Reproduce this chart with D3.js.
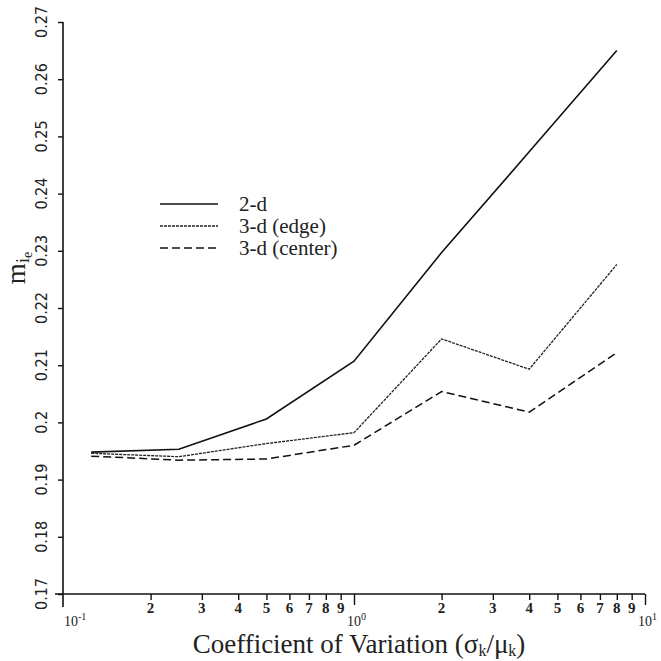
<!DOCTYPE html>
<html><head><meta charset="utf-8">
<script src="https://cdn.jsdelivr.net/npm/d3@7"></script>
<style>
html,body{margin:0;padding:0;background:#fff;}
svg{display:block;}
</style></head>
<body>
<svg id="chart" width="661" height="661"></svg>
<script>
// ---- data ----
const cv = [0.125, 0.25, 0.5, 1, 2, 4, 8];
const series2d = [0.1948, 0.1953, 0.2006, 0.2107, 0.2297, 0.2473, 0.2650];
const series3dEdge = [0.1946, 0.1940, 0.1963, 0.1982, 0.2146, 0.2093, 0.2276];
const series3dCenter = [0.1941, 0.1934, 0.1936, 0.1960, 0.2054, 0.2018, 0.2122];
const seriesNames = ["2-d", "3-d (edge)", "3-d (center)"];
const yTicks = [0.17, 0.18, 0.19, 0.2, 0.21, 0.22, 0.23, 0.24, 0.25, 0.26, 0.27];
const yTickLabels = ["0.17", "0.18", "0.19", "0.2", "0.21", "0.22", "0.23", "0.24", "0.25", "0.26", "0.27"];
const xMajor = [0.1, 1, 10];
const xMajorExp = ["-1", "0", "1"];
const xMinor = [0.2, 0.3, 0.4, 0.5, 0.6, 0.7, 0.8, 0.9, 2, 3, 4, 5, 6, 7, 8, 9];
const xMinorLabels = ["2","3","4","5","6","7","8","9","2","3","4","5","6","7","8","9"];

const svg = d3.select("#chart");
const serif = "'Liberation Serif','Times New Roman',serif";
const narrow = "'Liberation Sans Narrow','DejaVu Sans Condensed',sans-serif";

const x = d3.scaleLog().domain([0.1, 10]).range([63, 645]);
const y = d3.scaleLinear().domain([0.17, 0.27]).range([594, 22]);

// ---- y axis ----
const yAxis = d3.axisLeft(y).tickValues(yTicks).tickSize(5).tickFormat("");
const gy = svg.append("g").attr("transform", `translate(${x(0.1)},0)`).call(yAxis);
gy.select(".domain").remove();
gy.selectAll(".tick line").attr("stroke", "#111").attr("stroke-width", 1.4);
svg.append("line").attr("x1", x(0.1)).attr("x2", x(0.1)).attr("y1", y(0.27)).attr("y2", y(0.17) + 13)
  .attr("stroke", "#111").attr("stroke-width", 1.6);
svg.append("g").selectAll("text").data(yTicks).join("text")
  .attr("transform", d => `translate(47,${y(d)}) rotate(-90)`)
  .attr("text-anchor", "middle")
  .attr("font-family", narrow).attr("font-size", 16).attr("fill", "#222")
  .text((d, i) => yTickLabels[i]);

// ---- x axis ----
svg.append("line").attr("x1", x(0.1) - 8).attr("x2", x(10)).attr("y1", y(0.17)).attr("y2", y(0.17))
  .attr("stroke", "#111").attr("stroke-width", 1.6);
const xAxisMinor = d3.axisBottom(x).tickValues(xMinor).tickSize(6).tickFormat("");
const gxm = svg.append("g").attr("transform", `translate(0,${y(0.17)})`).call(xAxisMinor);
gxm.select(".domain").remove();
gxm.selectAll(".tick line").attr("stroke", "#111").attr("stroke-width", 1.4);
const xAxisMajor = d3.axisBottom(x).tickValues(xMajor.slice(1)).tickSize(11).tickFormat("");
const gxM = svg.append("g").attr("transform", `translate(0,${y(0.17)})`).call(xAxisMajor);
gxM.select(".domain").remove();
gxM.selectAll(".tick line").attr("stroke", "#111").attr("stroke-width", 1.4);

svg.append("g").selectAll("text").data(xMinor).join("text")
  .attr("x", d => x(d)).attr("y", 613)
  .attr("text-anchor", "middle")
  .attr("font-family", serif).attr("font-weight", "bold").attr("font-size", 15).attr("fill", "#222")
  .text((d, i) => xMinorLabels[i]);

xMajor.forEach((v, i) => {
  const t = svg.append("text")
    .attr("y", 626)
    .attr("font-family", serif).attr("font-size", 14).attr("fill", "#222");
  if (i === 0) t.attr("x", x(v) + 1); else t.attr("x", x(v) - 7);
  t.append("tspan").text("10");
  t.append("tspan").attr("dy", -6).attr("font-size", 10).text(xMajorExp[i]);
});

// axis titles
const xt = svg.append("text").attr("x", 359).attr("y", 653).attr("text-anchor", "middle")
  .attr("font-family", serif).attr("font-size", 27).attr("fill", "#222");
xt.append("tspan").text("Coefficient of Variation (σ");
xt.append("tspan").attr("dy", 3).attr("font-size", 16).text("k");
xt.append("tspan").attr("dy", -3).text("/μ");
xt.append("tspan").attr("dy", 3).attr("font-size", 16).text("k");
xt.append("tspan").attr("dy", -3).text(")");

const yt = svg.append("text").attr("transform", "translate(25,268) rotate(-90)")
  .attr("text-anchor", "middle")
  .attr("font-family", serif).attr("font-size", 27).attr("fill", "#222");
yt.append("tspan").text("m");
yt.append("tspan").attr("dy", 4).attr("font-size", 18).text("i");
yt.append("tspan").attr("dy", 3).attr("font-size", 14).text("e");

// ---- lines ----
const styles = [
  {data: series2d, width: 1.6, dash: null, color: "#111"},
  {data: series3dEdge, width: 1.3, dash: "3,1", color: "#222"},
  {data: series3dCenter, width: 1.5, dash: "8,4", color: "#111"}
];
const line = d3.line().x(d => x(d[0])).y(d => y(d[1]));
styles.forEach(s => {
  svg.append("path")
    .datum(cv.map((c, i) => [c, s.data[i]]))
    .attr("d", line)
    .attr("fill", "none")
    .attr("stroke", s.color)
    .attr("stroke-width", s.width)
    .attr("stroke-dasharray", s.dash);
});

// ---- legend ----
const leg = svg.append("g");
const legLineY = [204, 226, 248];
const legTextY = [211, 233, 255];
styles.forEach((s, i) => {
  leg.append("line").attr("x1", 160).attr("x2", 218).attr("y1", legLineY[i]).attr("y2", legLineY[i])
    .attr("stroke", s.color).attr("stroke-width", s.width).attr("stroke-dasharray", s.dash);
  leg.append("text").attr("x", 239).attr("y", legTextY[i])
    .attr("font-family", serif).attr("font-size", 21).attr("fill", "#222")
    .text(seriesNames[i]);
});
</script>
</body></html>
